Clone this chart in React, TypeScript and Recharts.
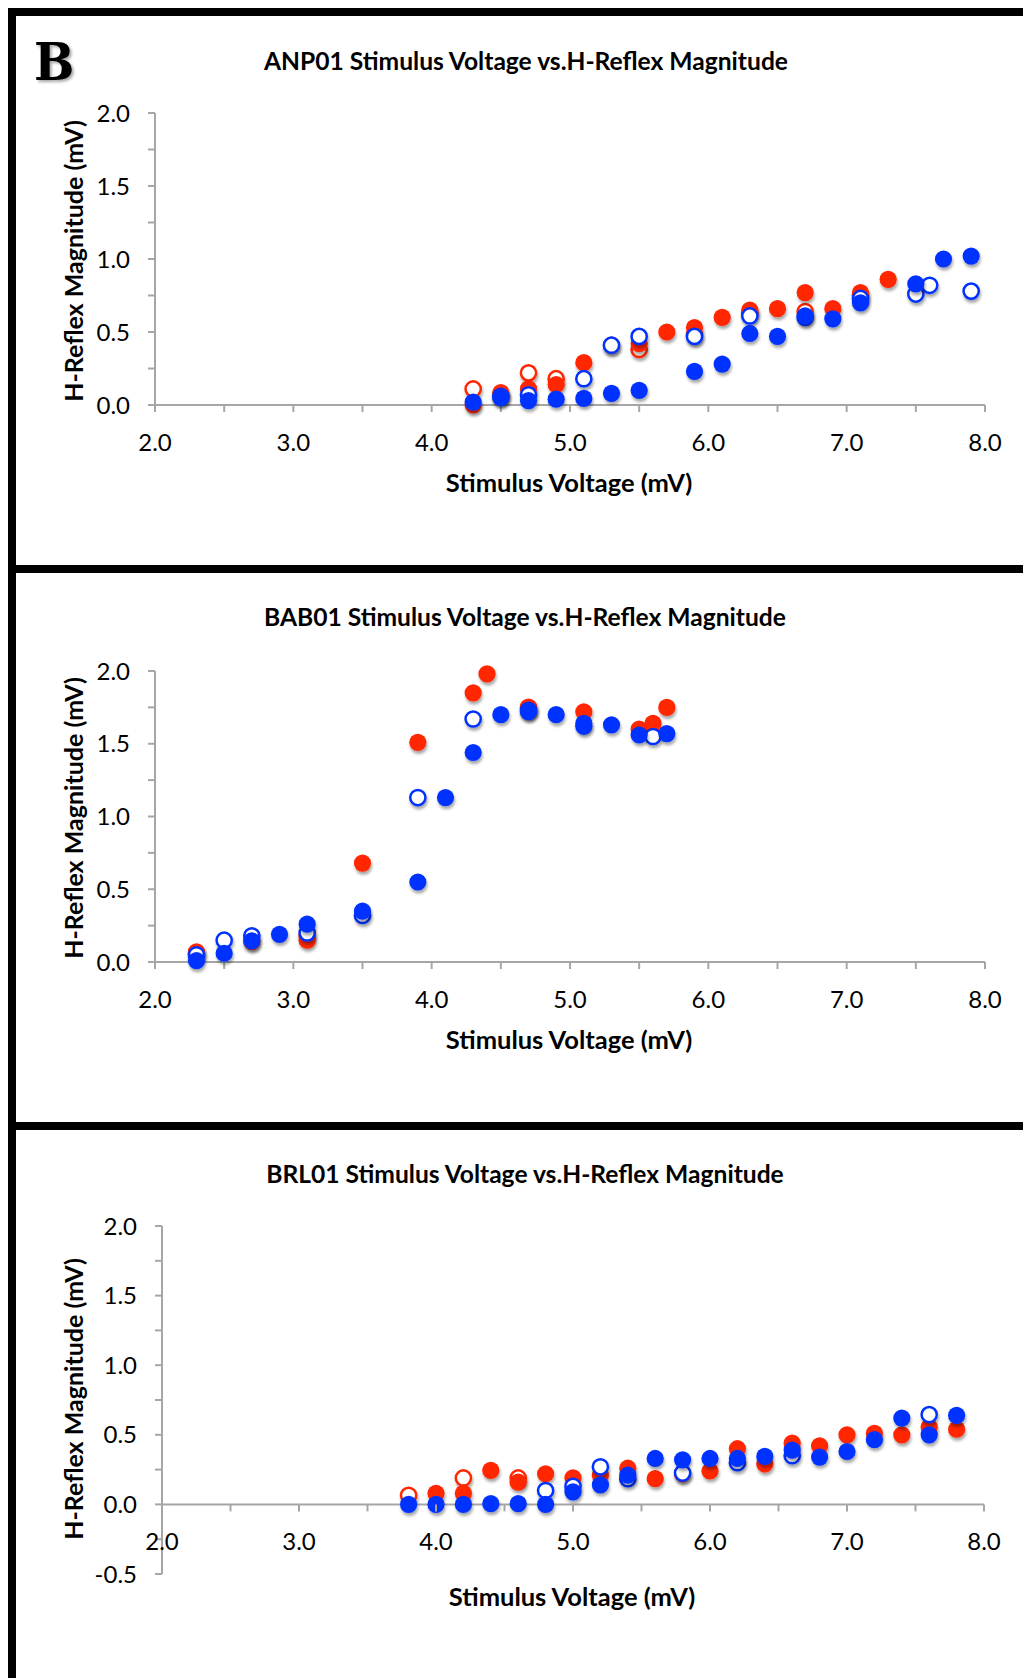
import React from 'react';
import { ScatterChart, Scatter, XAxis, YAxis, ReferenceLine } from 'recharts';

type Pt = [number, number];

// ANP01 - stimulus voltage (mV) vs H-reflex magnitude (mV)
const anpRedOpen: Pt[] = [
    [4.3, 0.11], [4.5, 0.07], [4.7, 0.22], [4.9, 0.18], [5.5, 0.38], [5.9, 0.48],
    [6.3, 0.63], [6.7, 0.64], [7.1, 0.75]
];
const anpRedFilled: Pt[] = [
    [4.3, 0.0], [4.5, 0.085], [4.7, 0.11], [4.9, 0.14], [5.1, 0.29], [5.3, 0.41],
    [5.5, 0.42], [5.7, 0.5], [5.9, 0.53], [6.1, 0.6], [6.3, 0.65], [6.5, 0.66],
    [6.7, 0.77], [6.9, 0.66], [7.1, 0.77], [7.3, 0.86]
];
const anpBlueOpen: Pt[] = [
    [4.5, 0.06], [4.7, 0.07], [5.1, 0.18], [5.3, 0.41], [5.5, 0.47], [5.9, 0.47],
    [6.3, 0.61], [6.7, 0.6], [7.1, 0.73], [7.5, 0.76], [7.6, 0.82], [7.9, 0.78]
];
const anpBlueFilled: Pt[] = [
    [4.3, 0.02], [4.5, 0.05], [4.7, 0.03], [4.9, 0.04], [5.1, 0.045], [5.3, 0.08],
    [5.5, 0.1], [5.9, 0.23], [6.1, 0.28], [6.3, 0.49], [6.5, 0.47], [6.7, 0.61],
    [6.9, 0.59], [7.1, 0.7], [7.5, 0.83], [7.7, 1.0], [7.9, 1.02]
];

// BAB01
const babRedOpen: Pt[] = [[2.3, 0.06], [3.1, 0.18], [4.7, 1.75]];
const babRedFilled: Pt[] = [
    [2.3, 0.07], [2.7, 0.14], [3.1, 0.15], [3.5, 0.68], [3.9, 1.51], [4.3, 1.85],
    [4.4, 1.98], [4.7, 1.74], [5.1, 1.72], [5.5, 1.6], [5.6, 1.64], [5.7, 1.75]
];
const babBlueOpen: Pt[] = [
    [2.3, 0.05], [2.5, 0.15], [2.7, 0.18], [3.1, 0.2], [3.5, 0.32], [3.9, 1.13],
    [4.3, 1.67], [4.7, 1.73], [5.6, 1.55]
];
const babBlueFilled: Pt[] = [
    [2.3, 0.01], [2.5, 0.06], [2.7, 0.145], [2.9, 0.19], [3.1, 0.26], [3.5, 0.35],
    [3.9, 0.55], [4.1, 1.13], [4.3, 1.44], [4.5, 1.7], [4.7, 1.72], [4.9, 1.7],
    [5.1, 1.64], [5.1, 1.62], [5.3, 1.63], [5.5, 1.56], [5.7, 1.57]
];

// BRL01
const brlRedOpen: Pt[] = [[3.8, 0.065], [4.2, 0.19], [4.6, 0.19]];
const brlRedFilled: Pt[] = [
    [4.0, 0.08], [4.2, 0.08], [4.4, 0.245], [4.6, 0.16], [4.8, 0.22], [5.0, 0.19],
    [5.2, 0.21], [5.4, 0.26], [5.6, 0.185], [5.8, 0.22], [6.0, 0.24], [6.2, 0.4],
    [6.4, 0.29], [6.6, 0.44], [6.8, 0.42], [7.0, 0.5], [7.2, 0.51], [7.4, 0.5],
    [7.6, 0.555], [7.8, 0.54]
];
const brlBlueOpen: Pt[] = [
    [4.8, 0.1], [5.0, 0.13], [5.2, 0.27], [5.4, 0.185], [5.8, 0.225], [6.2, 0.3],
    [6.6, 0.35], [7.6, 0.645]
];
const brlBlueFilled: Pt[] = [
    [3.8, 0.0], [4.0, 0.0], [4.2, 0.0], [4.4, 0.005], [4.6, 0.005], [4.8, 0.0],
    [5.0, 0.09], [5.2, 0.14], [5.4, 0.21], [5.6, 0.33], [5.8, 0.32], [6.0, 0.33],
    [6.2, 0.33], [6.4, 0.345], [6.6, 0.39], [6.8, 0.34], [7.0, 0.38], [7.2, 0.465],
    [7.4, 0.62], [7.6, 0.5], [7.8, 0.64]
];

const X_TICKS = [2, 2.5, 3, 3.5, 4, 4.5, 5, 5.5, 6, 6.5, 7, 7.5, 8];
const Y_TICKS = [0, 0.25, 0.5, 0.75, 1, 1.25, 1.5, 1.75, 2];
const Y_TICKS_BRL = [-0.5, -0.25, 0, 0.25, 0.5, 0.75, 1, 1.25, 1.5, 1.75, 2];

const RED = '#FF2600';
const BLUE = '#0433FF';
const AXIS = '#A6A6A6';
const FONT = 'Lato, "Open Sans", sans-serif';
const TICK_FONT = 24;
const TICK_SIZE = 7;
const X_TICK_MARGIN = 22;

const toPts = (arr: Pt[]) => arr.map(([x, y]) => ({ x, y }));

const fmtX = (v: number) => (Number.isInteger(v) ? v.toFixed(1) : '');
const fmtY = (v: number) => (Number.isInteger(v * 2) ? v.toFixed(1) : '');

// marker shapes
const filledDot = (color: string) => (props: any) => (
    <circle cx={props.cx} cy={props.cy} r={8.6} fill={color} filter="url(#dotShadow)" />
);
const openDot = (color: string) => (props: any) => (
    <circle cx={props.cx} cy={props.cy} r={7.6} fill="#fff" stroke={color} strokeWidth={2.5} filter="url(#dotShadow)" />
);

interface PanelProps {
    title: string;
    top: number;
    height: number;
    margin: { top: number; right: number; bottom: number; left: number };
    plotHeight: number;
    yDomain: [number, number];
    yTicks: number[];
    redOpen: Pt[];
    redFilled: Pt[];
    blueOpen: Pt[];
    blueFilled: Pt[];
    zeroAxis?: boolean;
    titleY: number;
    titleX: number;
    xTitleX: number;
    xTitleY: number;
    yTitleY: number;
}

const Panel: React.FC<PanelProps> = (p) => {
    // distance between the bottom of the plot and the y=0 line
    const zeroOffset = (p.plotHeight * (0 - p.yDomain[0])) / (p.yDomain[1] - p.yDomain[0]);

    const ZeroTick = (props: any) => {
        const { x, y, payload } = props;
        const y0 = y - TICK_SIZE - X_TICK_MARGIN - zeroOffset;
        return (
            <g>
                <line x1={x} x2={x} y1={y0} y2={y0 + TICK_SIZE} stroke={AXIS} strokeWidth={2} />
                <text x={x} y={y0 + TICK_SIZE + X_TICK_MARGIN} dy="0.71em" textAnchor="middle"
                    fill="#000" fontSize={TICK_FONT} fontFamily={FONT}>
                    {fmtX(payload.value)}
                </text>
            </g>
        );
    };

    const textStyle: React.CSSProperties = {
        position: 'absolute',
        whiteSpace: 'nowrap',
        lineHeight: 1,
        fontFamily: FONT,
        fontWeight: 700,
        fontSize: 25.5,
        color: '#000'
    };

    return (
        <>
            <div style={{ ...textStyle, fontSize: 24.6, left: p.titleX, top: p.titleY, transform: 'translate(-50%, -50%)' }}>
                {p.title}
            </div>
            <div style={{ ...textStyle, left: p.xTitleX, top: p.xTitleY, transform: 'translate(-50%, -50%)' }}>
                Stimulus Voltage (mV)
            </div>
            <div style={{ ...textStyle, fontSize: 25, left: 73, top: p.yTitleY, transform: 'translate(-50%, -50%) rotate(-90deg)' }}>
                H-Reflex Magnitude (mV)
            </div>
            <div style={{ position: 'absolute', left: 0, top: p.top }}>
                <ScatterChart width={1023} height={p.height} margin={p.margin}>
                    <XAxis
                        type="number"
                        dataKey="x"
                        domain={[2, 8]}
                        ticks={X_TICKS}
                        interval={0}
                        tickFormatter={fmtX}
                        height={50}
                        tickSize={TICK_SIZE}
                        tickMargin={X_TICK_MARGIN}
                        axisLine={p.zeroAxis ? false : { stroke: AXIS, strokeWidth: 2 }}
                        tickLine={p.zeroAxis ? false : { stroke: AXIS, strokeWidth: 2 }}
                        tick={p.zeroAxis ? ZeroTick : { fill: '#000', fontSize: TICK_FONT, fontFamily: FONT }}
                    />
                    <YAxis
                        type="number"
                        dataKey="y"
                        domain={p.yDomain}
                        ticks={p.yTicks}
                        interval={0}
                        tickFormatter={fmtY}
                        width={60}
                        tickSize={TICK_SIZE}
                        tickMargin={18}
                        axisLine={{ stroke: AXIS, strokeWidth: 2 }}
                        tickLine={{ stroke: AXIS, strokeWidth: 2 }}
                        tick={{ fill: '#000', fontSize: TICK_FONT, fontFamily: FONT }}
                    />
                    {p.zeroAxis && <ReferenceLine y={0} stroke={AXIS} strokeWidth={2} />}
                    <Scatter name="Red (open)" data={toPts(p.redOpen)} shape={openDot(RED)} isAnimationActive={false} />
                    <Scatter name="Red" data={toPts(p.redFilled)} shape={filledDot(RED)} isAnimationActive={false} />
                    <Scatter name="Blue (open)" data={toPts(p.blueOpen)} shape={openDot(BLUE)} isAnimationActive={false} />
                    <Scatter name="Blue" data={toPts(p.blueFilled)} shape={filledDot(BLUE)} isAnimationActive={false} />
                </ScatterChart>
            </div>
        </>
    );
};

const bar = (left: number, top: number, width: number, height: number): React.CSSProperties => ({
    position: 'absolute', left, top, width, height, background: '#000'
});

export default function App() {
    return (
        <div style={{ position: 'relative', width: 1023, height: 1678, background: '#fff', overflow: 'hidden', fontFamily: FONT }}>
            <style>{'html,body{margin:0;padding:0;overflow:hidden;}'}</style>
            <svg width={0} height={0} style={{ position: 'absolute' }}>
                <defs>
                    <filter id="dotShadow" x="-50%" y="-50%" width="200%" height="200%">
                        <feDropShadow dx={1} dy={3} stdDeviation={1.6} floodColor="#000" floodOpacity={0.35} />
                    </filter>
                </defs>
            </svg>

            {/* frame */}
            <div style={bar(8, 8, 1015, 8)} />
            <div style={bar(8, 8, 8, 1670)} />
            <div style={bar(8, 565, 1015, 8)} />
            <div style={bar(8, 1122, 1015, 8)} />

            <div style={{
                position: 'absolute', left: 34, top: 35, fontFamily: '"DejaVu Serif Condensed", "DejaVu Serif", serif',
                fontWeight: 900, fontSize: 53, lineHeight: 1, color: '#000', textShadow: '2px 2px 3px rgba(0,0,0,0.35)'
            }}>
                B
            </div>

            <Panel
                title="ANP01 Stimulus Voltage vs.H-Reflex Magnitude"
                top={16}
                height={549}
                margin={{ top: 97, right: 38, bottom: 110, left: 95 }}
                plotHeight={292}
                yDomain={[0, 2]}
                yTicks={Y_TICKS}
                redOpen={anpRedOpen}
                redFilled={anpRedFilled}
                blueOpen={anpBlueOpen}
                blueFilled={anpBlueFilled}
                titleX={526}
                titleY={61}
                xTitleX={569}
                xTitleY={483}
                yTitleY={261}
            />
            <Panel
                title="BAB01 Stimulus Voltage vs.H-Reflex Magnitude"
                top={573}
                height={549}
                margin={{ top: 98, right: 38, bottom: 110, left: 95 }}
                plotHeight={291}
                yDomain={[0, 2]}
                yTicks={Y_TICKS}
                redOpen={babRedOpen}
                redFilled={babRedFilled}
                blueOpen={babBlueOpen}
                blueFilled={babBlueFilled}
                titleX={525}
                titleY={617}
                xTitleX={569}
                xTitleY={1040}
                yTitleY={818}
            />
            <Panel
                title="BRL01 Stimulus Voltage vs.H-Reflex Magnitude"
                top={1130}
                height={548}
                margin={{ top: 96, right: 39, bottom: 54, left: 102 }}
                plotHeight={348}
                yDomain={[-0.5, 2]}
                yTicks={Y_TICKS_BRL}
                redOpen={brlRedOpen}
                redFilled={brlRedFilled}
                blueOpen={brlBlueOpen}
                blueFilled={brlBlueFilled}
                zeroAxis
                titleX={525}
                titleY={1174}
                xTitleX={572}
                xTitleY={1597}
                yTitleY={1399}
            />
        </div>
    );
}
